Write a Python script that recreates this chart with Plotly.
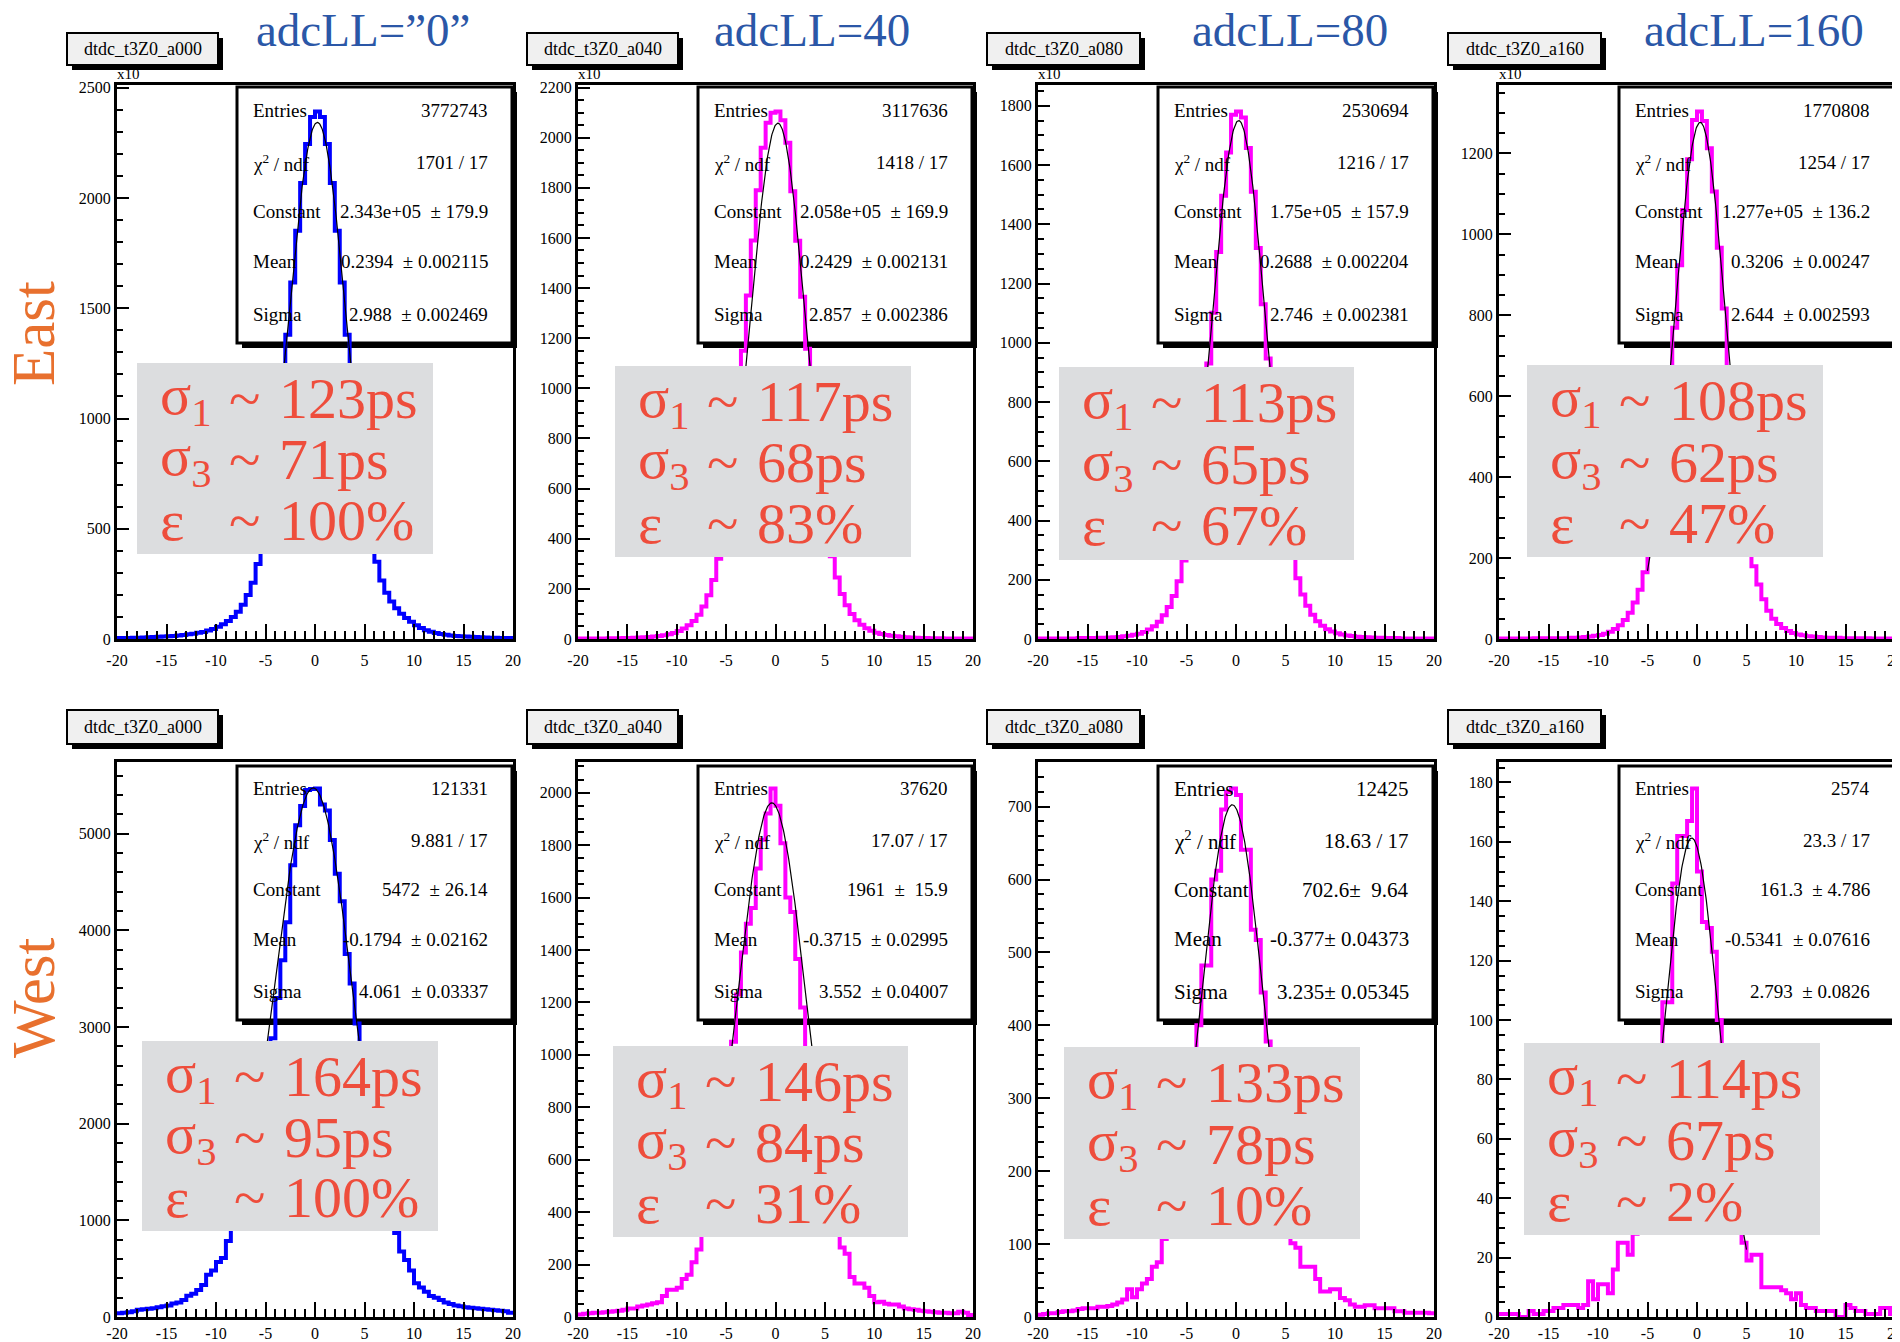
import numpy as np
import plotly.graph_objects as go

W, H = 1900, 1342
OFF = 8  # the page body adds an 8 px margin; compensate so marks land where the reference has them

# ---------------- data ----------------
x_lo, x_hi, n_bins = -20.0, 20.0, 80

column_titles = ["adcLL=\u201d0\u201d", "adcLL=40", "adcLL=80", "adcLL=160"]
row_titles = ["East", "West"]
hist_names = ["dtdc_t3Z0_a000", "dtdc_t3Z0_a040", "dtdc_t3Z0_a080", "dtdc_t3Z0_a160"] * 2

x_tick_vals = [-20, -15, -10, -5, 0, 5, 10, 15, 20]
x_tick_text = ["-20", "-15", "-10", "-5", "0", "5", "10", "15", "20"]

# bin contents (top row in units of x10^2)
east_a000 = [4, 5, 5, 6, 6, 7, 8, 9, 10, 11,
             12, 14, 16, 18, 21, 24, 28, 32, 38, 45,
             55, 67, 82, 100, 124, 155, 200, 255, 340, 440,
             570, 730, 920, 1150, 1380, 1617, 1852, 2068, 2245, 2367,
             2393, 2367, 2245, 2068, 1852, 1617, 1380, 1150, 930, 740,
             580, 450, 350, 265, 210, 170, 140, 115, 95, 78,
             62, 50, 40, 33, 27, 23, 19, 16, 14, 12,
             11, 10, 9, 8, 7, 6, 6, 5, 5, 4]
east_a040 = [2, 2, 2, 2, 2, 2, 3, 3, 3, 4,
             4, 5, 6, 7, 8, 10, 12, 15, 19, 24,
             32, 42, 55, 72, 97, 130, 175, 235, 320, 430,
             570, 740, 930, 1150, 1370, 1590, 1790, 1960, 2060, 2100,
             2105, 2070, 1980, 1786, 1589, 1365, 1158, 940, 750, 580,
             440, 330, 245, 180, 135, 100, 75, 57, 43, 33,
             25, 20, 16, 13, 11, 9, 7, 6, 5, 4,
             4, 3, 3, 3, 2, 2, 2, 2, 2, 2]
east_a080 = [2, 2, 2, 2, 2, 2, 2, 2, 3, 3,
             3, 3, 4, 4, 5, 6, 7, 9, 11, 14,
             18, 24, 32, 43, 58, 80, 108, 145, 195, 265,
             350, 460, 600, 760, 930, 1101, 1306, 1496, 1642, 1770,
             1781, 1760, 1657, 1510, 1320, 1130, 947, 770, 610, 470,
             360, 275, 205, 150, 112, 82, 60, 45, 33, 25,
             19, 15, 12, 10, 8, 7, 6, 5, 4, 4,
             3, 3, 3, 2, 2, 2, 2, 2, 2, 2]
east_a160 = [1, 1, 1, 1, 1, 1, 1, 2, 2, 2,
             2, 2, 2, 2, 3, 3, 4, 5, 6, 8,
             10, 13, 18, 25, 34, 47, 65, 90, 122, 165,
             225, 300, 390, 500, 630, 769, 924, 1060, 1186, 1283,
             1304, 1280, 1213, 1106, 967, 817, 670, 540, 420, 320,
             245, 180, 135, 98, 70, 50, 37, 27, 20, 15,
             11, 9, 7, 6, 5, 4, 3, 3, 3, 2,
             2, 2, 2, 2, 2, 1, 1, 1, 1, 1]
west_a000 = [40, 45, 50, 60, 75, 80, 85, 90, 100, 110,
             120, 140, 150, 175, 220, 240, 280, 330, 437, 480,
             568, 611, 786, 950, 1150, 1350, 1600, 1850, 2100, 2350,
             2600, 2882, 3300, 3690, 4083, 4672, 5087, 5284, 5450, 5460,
             5467, 5300, 5240, 4934, 4585, 4301, 3755, 3450, 3035, 2700,
             2400, 2100, 1800, 1500, 1250, 1050, 870, 677, 590, 480,
             350, 306, 262, 218, 200, 175, 150, 135, 120, 110,
             100, 95, 90, 85, 80, 75, 70, 65, 60, 45]
west_a040 = [10, 12, 14, 16, 16, 18, 20, 22, 24, 28,
             32, 32, 40, 44, 48, 52, 56, 80, 104, 104,
             112, 145, 161, 209, 257, 330, 400, 490, 590, 720,
             880, 1050, 1230, 1390, 1500, 1560, 1711, 1820, 1920, 2016,
             1950, 1807, 1600, 1545, 1365, 1180, 1020, 880, 750, 630,
             520, 420, 330, 265, 241, 153, 128, 128, 112, 80,
             56, 58, 51, 48, 48, 40, 32, 30, 28, 24,
             22, 20, 18, 16, 16, 14, 14, 20, 16, 8]
west_a080 = [3, 4, 5, 5, 7, 8, 8, 9, 11, 12,
             12, 12, 14, 14, 15, 17, 20, 24, 38, 27,
             38, 46, 52, 69, 75, 107, 115, 140, 175, 215,
             270, 340, 400, 482, 482, 600, 612, 696, 720, 725,
             716, 641, 641, 531, 517, 445, 378, 320, 260, 200,
             150, 101, 95, 69, 69, 69, 52, 35, 35, 38,
             38, 26, 23, 17, 14, 14, 16, 16, 12, 12,
             12, 12, 8, 8, 6, 6, 6, 6, 6, 5]
west_a160 = [1, 1, 1, 1, 0, 0, 2, 1, 1, 2,
             2, 3, 3, 4, 4, 4, 3, 4, 12, 6,
             11, 11, 8, 16, 25, 25, 21, 28, 32, 42,
             55, 70, 90, 106, 106, 146, 162, 162, 167, 178,
             150, 133, 131, 123, 100, 88, 65, 45, 30, 25,
             19, 21, 21, 10, 10, 10, 10, 9, 8, 6,
             8, 4, 3, 3, 2, 2, 2, 2, 0, 0,
             4, 3, 2, 2, 1, 1, 1, 3, 3, 1]

hist_values = [east_a000, east_a040, east_a080, east_a160,
               west_a000, west_a040, west_a080, west_a160]
y_unit = [100, 100, 100, 100, 1, 1, 1, 1]   # "x10^2" on the top row

# gaussian fit results (from the stat boxes)
fit_const = [2.343e5, 2.058e5, 1.75e5, 1.277e5, 5472, 1961, 702.6, 161.3]
fit_mean = [0.2394, 0.2429, 0.2688, 0.3206, -0.1794, -0.3715, -0.377, -0.5341]
fit_sigma = [2.988, 2.857, 2.746, 2.644, 4.061, 3.552, 3.235, 2.793]
fit_range = [-5.0, 5.0]

stat_labels = ["Entries", "\u03c7<sup>2</sup> / ndf", "Constant", "Mean", "Sigma"]
stat_values = [
    ["3772743", "1701 / 17", "2.343e+05 \u00a0\u00b1 179.9", "0.2394 \u00a0\u00b1 0.002115", "2.988 \u00a0\u00b1 0.002469"],
    ["3117636", "1418 / 17", "2.058e+05 \u00a0\u00b1 169.9", "0.2429 \u00a0\u00b1 0.002131", "2.857 \u00a0\u00b1 0.002386"],
    ["2530694", "1216 / 17", "1.75e+05 \u00a0\u00b1 157.9", "0.2688 \u00a0\u00b1 0.002204", "2.746 \u00a0\u00b1 0.002381"],
    ["1770808", "1254 / 17", "1.277e+05 \u00a0\u00b1 136.2", "0.3206 \u00a0\u00b1 0.00247", "2.644 \u00a0\u00b1 0.002593"],
    ["121331", "9.881 / 17", "5472 \u00a0\u00b1 26.14", "-0.1794 \u00a0\u00b1 0.02162", "4.061 \u00a0\u00b1 0.03337"],
    ["37620", "17.07 / 17", "1961 \u00a0\u00b1 \u00a015.9", "-0.3715 \u00a0\u00b1 0.02995", "3.552 \u00a0\u00b1 0.04007"],
    ["12425", "18.63 / 17", "702.6\u00b1 \u00a09.64", "-0.377\u00b1 0.04373", "3.235\u00b1 0.05345"],
    ["2574", "23.3 / 17", "161.3 \u00a0\u00b1 4.786", "-0.5341 \u00a0\u00b1 0.07616", "2.793 \u00a0\u00b1 0.0826"],
]

sigma1_ps = ["123", "117", "113", "108", "164", "146", "133", "114"]
sigma3_ps = ["71", "68", "65", "62", "95", "84", "78", "67"]
efficiency = ["100", "83", "67", "47", "100", "31", "10", "2"]

# ---------------- layout geometry (pixels) ----------------
col_x = [(117, 513), (578, 973), (1038, 1434), (1499, 1895)]
row_y = [(85, 639), (762, 1317)]
y_major = [500, 200, 200, 200, 1000, 200, 100, 20]
y_minor = [100, 50, 50, 50, 200, 50, 20, 5]
grey_boxes = [(137, 433, 363, 554), (615, 911, 366, 557), (1059, 1354, 367, 560), (1527, 1823, 365, 557),
              (142, 438, 1041, 1231), (613, 908, 1046, 1237), (1064, 1360, 1047, 1239), (1524, 1820, 1043, 1235)]
title_x = [(67, 218), (527, 678), (987, 1140), (1448, 1601)]
title_y = [(33, 65), (710, 744)]
header_cx = [363, 812, 1290, 1754]

SERIF = "Liberation Serif, Times New Roman, serif"
RED = "#ee4d3c"
BLUE_HDR = "#2b57a7"
ORANGE = "#e8702e"


def px(x):
    return (x - OFF) / W


def py(y):
    return 1 - (y - OFF) / H


fig = go.Figure()
layout = dict(template="none", width=W, height=H, margin=dict(l=0, r=0, t=0, b=0, pad=0),
              paper_bgcolor="white", plot_bgcolor="white", showlegend=False)
shapes = []
annotations = []

edges = np.linspace(x_lo, x_hi, n_bins + 1)

for k in range(8):
    r, c = divmod(k, 4)
    ax = "" if k == 0 else str(k + 1)
    xref, yref = "x" + ax, "y" + ax
    fx0, fx1 = col_x[c]
    fy0, fy1 = row_y[r]
    vals = np.array(hist_values[k], dtype=float)
    ymax = 1.05 * vals.max()
    color = "#0000ff" if c == 0 else "#ff00ff"

    fig.add_trace(go.Scatter(x=edges, y=np.append(vals, vals[-1]), mode="lines",
                             line=dict(shape="hv", color=color, width=4),
                             xaxis=xref, yaxis=yref, hoverinfo="skip"))
    xf = np.linspace(fit_range[0], fit_range[1], 201)
    yf = fit_const[k] / y_unit[k] * np.exp(-0.5 * ((xf - fit_mean[k]) / fit_sigma[k]) ** 2)
    fig.add_trace(go.Scatter(x=xf, y=yf, mode="lines", line=dict(color="black", width=1.2),
                             xaxis=xref, yaxis=yref, hoverinfo="skip"))

    layout["xaxis" + ax] = dict(
        domain=[px(fx0), px(fx1)], anchor=yref, range=[x_lo, x_hi], automargin=False,
        tickmode="array", tickvals=x_tick_vals, ticktext=x_tick_text,
        ticks="inside", ticklen=15, tickwidth=2, tickcolor="black",
        ticklabelstandoff=(5 if r == 0 else 0),
        minor=dict(dtick=1, tick0=-20, ticks="inside", ticklen=8, tickwidth=2, tickcolor="black"),
        showline=True, linewidth=3, linecolor="black", mirror=True,
        showgrid=False, zeroline=False,
        tickfont=dict(family=SERIF, size=16, color="black"))
    layout["yaxis" + ax] = dict(
        domain=[py(fy1), py(fy0)], anchor=xref, range=[0, ymax], automargin=False,
        tickmode="linear", tick0=0, dtick=y_major[k],
        ticks="inside", ticklen=12, tickwidth=2, tickcolor="black",
        minor=dict(dtick=y_minor[k], tick0=0, ticks="inside", ticklen=6, tickwidth=2, tickcolor="black"),
        showline=True, linewidth=3, linecolor="black", mirror=True,
        showgrid=False, zeroline=False, tickformat="d",
        tickfont=dict(family=SERIF, size=16, color="black"))

    # stat box (below traces) with shadow
    sx0, sx1 = fx0 + 120, fx1 - 1
    sy0, sy1 = (87, 343) if r == 0 else (766, 1020)
    shapes.append(dict(type="rect", xref="paper", yref="paper", layer="below",
                       x0=px(sx0 + 5), x1=px(sx1 + 5), y0=py(sy1 + 5), y1=py(sy0 + 5),
                       fillcolor="black", line=dict(width=0)))
    shapes.append(dict(type="rect", xref="paper", yref="paper", layer="below",
                       x0=px(sx0), x1=px(sx1), y0=py(sy1), y1=py(sy0),
                       fillcolor="white", line=dict(color="black", width=3)))
    fs = 21 if k == 6 else 19
    for i, frac in enumerate([0.09, 0.295, 0.487, 0.683, 0.889]):
        yy = sy0 + frac * (sy1 - sy0)
        annotations.append(dict(xref="paper", yref="paper", x=px(sx0 + 14), y=py(yy),
                                xanchor="left", yanchor="middle", showarrow=False,
                                text=stat_labels[i], font=dict(family=SERIF, size=fs, color="black")))
        annotations.append(dict(xref="paper", yref="paper", x=px(sx1 - 22), y=py(yy),
                                xanchor="right", yanchor="middle", showarrow=False,
                                text=stat_values[k][i], font=dict(family=SERIF, size=fs, color="black")))

    # grey result box
    gx0, gx1, gy0, gy1 = grey_boxes[k]
    shapes.append(dict(type="rect", xref="paper", yref="paper", layer="above",
                       x0=px(gx0), x1=px(gx1), y0=py(gy1), y1=py(gy0),
                       fillcolor="#dcdddf", line=dict(width=0)))
    lines = [("\u03c3<sub>1</sub>", sigma1_ps[k] + "ps"),
             ("\u03c3<sub>3</sub>", sigma3_ps[k] + "ps"),
             ("\u03b5", efficiency[k] + "%")]
    gh = gy1 - gy0
    for i, frac in enumerate([0.185, 0.507, 0.823]):
        yy = gy0 + frac * gh
        for xo, txt in [(21, lines[i][0]), (90, "~"), (140, lines[i][1])]:
            annotations.append(dict(xref="paper", yref="paper", x=px(gx0 + xo), y=py(yy),
                                    xanchor="left", yanchor="middle", showarrow=False,
                                    text=txt, font=dict(family=SERIF, size=58, color=RED)))

    # histogram title box
    tx0, tx1 = title_x[c]
    ty0, ty1 = title_y[r]
    shapes.append(dict(type="rect", xref="paper", yref="paper", layer="above",
                       x0=px(tx0 + 5), x1=px(tx1 + 5), y0=py(ty1 + 5), y1=py(ty0 + 5),
                       fillcolor="black", line=dict(width=0)))
    shapes.append(dict(type="rect", xref="paper", yref="paper", layer="above",
                       x0=px(tx0), x1=px(tx1), y0=py(ty1), y1=py(ty0),
                       fillcolor="#f0f0f0", line=dict(color="black", width=2)))
    annotations.append(dict(xref="paper", yref="paper", x=px((tx0 + tx1) / 2), y=py((ty0 + ty1) / 2),
                            xanchor="center", yanchor="middle", showarrow=False,
                            text=hist_names[k], font=dict(family=SERIF, size=18, color="black")))
    if r == 0:
        annotations.append(dict(xref="paper", yref="paper", x=px(fx0 - 2), y=py(fy0 - 1),
                                xanchor="left", yanchor="bottom", showarrow=False,
                                text="x10", font=dict(family=SERIF, size=15, color="black")))

for c in range(4):
    annotations.append(dict(xref="paper", yref="paper", x=px(header_cx[c]), y=py(30),
                            xanchor="center", yanchor="middle", showarrow=False,
                            text=column_titles[c], font=dict(family=SERIF, size=47, color=BLUE_HDR)))

for r, cy in enumerate([334, 998]):
    annotations.append(dict(xref="paper", yref="paper", x=px(33), y=py(cy),
                            xanchor="center", yanchor="middle", showarrow=False, textangle=-90,
                            text=row_titles[r], font=dict(family=SERIF, size=61, color=ORANGE)))

layout["shapes"] = shapes
layout["annotations"] = annotations
fig.update_layout(**layout)
fig.write_html("out.html")
